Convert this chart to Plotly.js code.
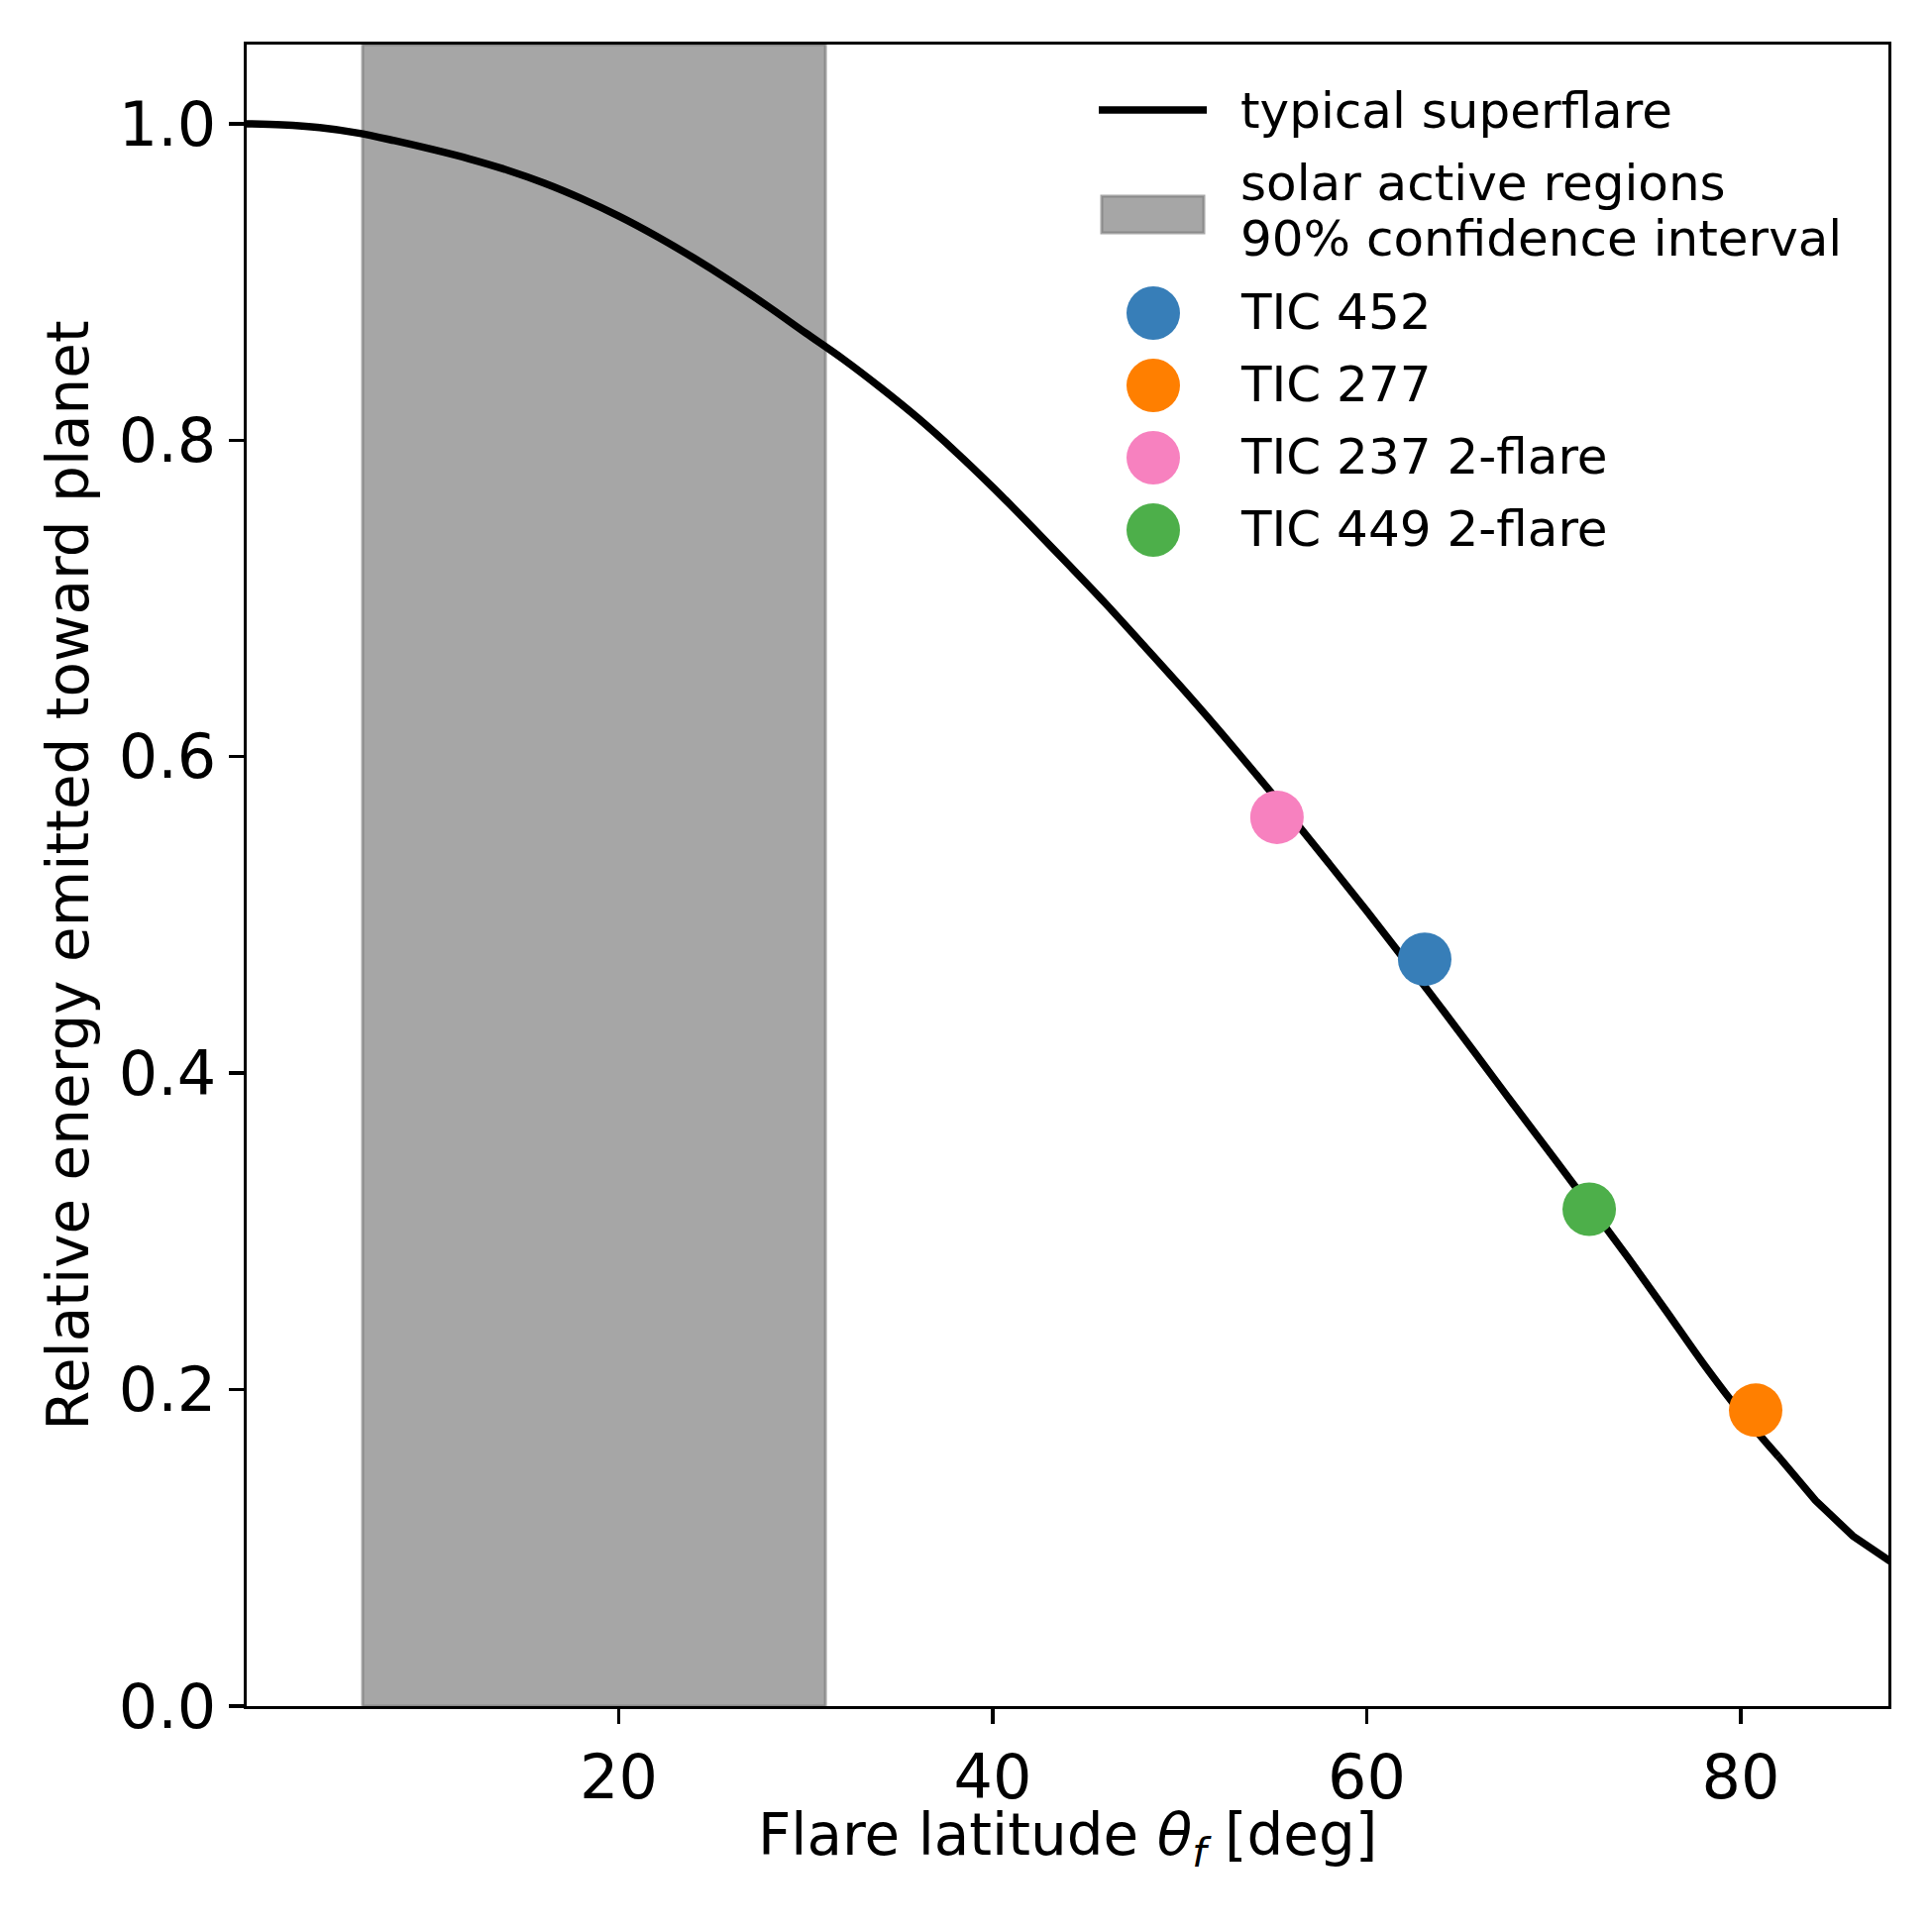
<!DOCTYPE html>
<html>
<head>
<meta charset="utf-8">
<script src="https://cdn.plot.ly/plotly-3.0.1.min.js"></script>
<style>html,body{margin:0;padding:0;background:#fff;}</style>
</head>
<body>
<div id="chart" style="width:1950px;height:1950px;"></div>
<script>
// ---- data ----
const latitude = [0,2,4,6,8,10,12,14,16,18,20,22,24,26,28,30,32,34,36,38,40,42,44,46,48,50,52,54,56,58,60,62,64,66,68,70,72,74,76,78,80,82,84,86,88];
const relEnergy = [1.000,0.9993,0.9975,0.9942,0.9893,0.9838,0.9778,0.9708,0.9625,0.9527,0.9416,0.9290,0.9152,0.9003,0.8844,0.8677,0.8512,0.8332,0.8140,0.7929,0.7703,0.7464,0.7220,0.6972,0.6712,0.6450,0.6180,0.5900,0.5615,0.5322,0.5025,0.4720,0.4410,0.4095,0.3778,0.3465,0.3150,0.2830,0.2500,0.2165,0.1855,0.1580,0.1300,0.1075,0.0915];
const curveName = "typical superflare";

const bandRange = [6.3, 31.05];
const bandName = "solar active regions\n90% confidence interval";

const starNames = ["TIC 452", "TIC 277", "TIC 237 2-flare", "TIC 449 2-flare"];
const starLatitude = [63.1, 80.8, 55.2, 71.9];
const starEnergy = [0.472, 0.187, 0.5617, 0.314];
const starColors = ["#377eb8", "#ff7f00", "#f781bf", "#4daf4a"];

const xTicks = [20, 40, 60, 80];
const yTicks = [0.0, 0.2, 0.4, 0.6, 0.8, 1.0];
const xTitle = "Flare latitude <i>θ<sub>f</sub></i> [deg]";
const yTitle = "Relative energy emitted toward planet";

// ---- layout geometry (pixels) ----
const W = 1950, H = 1950;
const L = 249, R = 1906, T = 45, B = 1722;
const fx = px => (px - L) / (R - L);
const fy = py => (B - py) / (B - T);
const FONT = "DejaVu Sans, Liberation Sans, sans-serif";
const BAND_FILL = "rgba(128,128,128,0.7)";

// smooth part of the curve drawn as a spline, the coarse tail kept linear (as in the reference)
const splitIdx = latitude.indexOf(82);
const traces = [];
traces.push({
  x: latitude.slice(0, splitIdx + 1), y: relEnergy.slice(0, splitIdx + 1), type: "scatter", mode: "lines",
  name: curveName, line: {color: "#000", width: 7.5, shape: "spline", smoothing: 1}, hoverinfo: "skip"
});
traces.push({
  x: latitude.slice(splitIdx), y: relEnergy.slice(splitIdx), type: "scatter", mode: "lines",
  name: curveName, line: {color: "#000", width: 7.5}, hoverinfo: "skip"
});
starNames.forEach((n, i) => {
  traces.push({
    x: [starLatitude[i]], y: [starEnergy[i]], type: "scatter", mode: "markers", name: n,
    marker: {color: starColors[i], size: 54, line: {width: 0}}
  });
});

const shapes = [{
  type: "rect", xref: "x", yref: "paper", x0: bandRange[0], x1: bandRange[1], y0: 0, y1: 1,
  fillcolor: BAND_FILL, line: {color: BAND_FILL, width: 3}, layer: "below"
}];
const annotations = [];

// x-axis title placed as a paper annotation (centred under the plot area)
annotations.push({xref: "paper", yref: "paper", x: 0.5, y: fy(1856), text: xTitle,
  showarrow: false, xanchor: "center", yanchor: "middle", font: {family: FONT, size: 58, color: "#000"}});

// ---- hand-built legend (matplotlib-sized handles) ----
const legTextX = fx(1250);
const LEGFONT = {family: FONT, size: 50, color: "#000"};
shapes.push({type: "line", xref: "paper", yref: "paper", x0: fx(1109), x1: fx(1218), y0: fy(111), y1: fy(111),
  line: {color: "#000", width: 7.5}});
annotations.push({xref: "paper", yref: "paper", x: legTextX, y: fy(112), text: curveName,
  showarrow: false, xanchor: "left", yanchor: "middle", font: LEGFONT});
shapes.push({type: "rect", xref: "paper", yref: "paper", x0: fx(1112), x1: fx(1215), y0: fy(235), y1: fy(198),
  fillcolor: BAND_FILL, line: {color: BAND_FILL, width: 3}});
bandName.split("\n").forEach((t, k) => {
  annotations.push({xref: "paper", yref: "paper", x: legTextX, y: fy(185 + 56 * k), text: t,
    showarrow: false, xanchor: "left", yanchor: "middle", font: LEGFONT});
});
const r = 27;
starNames.forEach((n, i) => {
  const cy = 316 + 73 * i;
  shapes.push({type: "circle", xref: "paper", yref: "paper",
    x0: fx(1164 - r), x1: fx(1164 + r), y0: fy(cy + r), y1: fy(cy - r),
    fillcolor: starColors[i], line: {width: 0}});
  annotations.push({xref: "paper", yref: "paper", x: legTextX, y: fy(cy - 1), text: n,
    showarrow: false, xanchor: "left", yanchor: "middle", font: LEGFONT});
});

const axisCommon = {
  showgrid: false, zeroline: false, showline: true, mirror: true,
  linecolor: "#000", linewidth: 3.3, ticks: "outside", ticklen: 15, tickwidth: 3.3, tickcolor: "#000",
  tickfont: {family: FONT, size: 62, color: "#000"}
};

const layout = {
  width: W, height: H, autosize: false,
  margin: {l: L, r: W - R, t: T, b: H - B, pad: 0},
  paper_bgcolor: "#fff", plot_bgcolor: "#fff",
  showlegend: false,
  font: {family: FONT, color: "#000"},
  xaxis: Object.assign({}, axisCommon, {
    range: [0.1, 87.9], tickvals: xTicks, ticktext: xTicks.map(String)
  }),
  yaxis: Object.assign({}, axisCommon, {
    range: [0, 1.05], tickvals: yTicks, ticktext: yTicks.map(v => v.toFixed(1)),
    title: {text: yTitle, font: {family: FONT, size: 58, color: "#000"}, standoff: 12}
  }),
  shapes: shapes, annotations: annotations
};

Plotly.newPlot("chart", traces, layout, {staticPlot: true, displayModeBar: false});
</script>
</body>
</html>
